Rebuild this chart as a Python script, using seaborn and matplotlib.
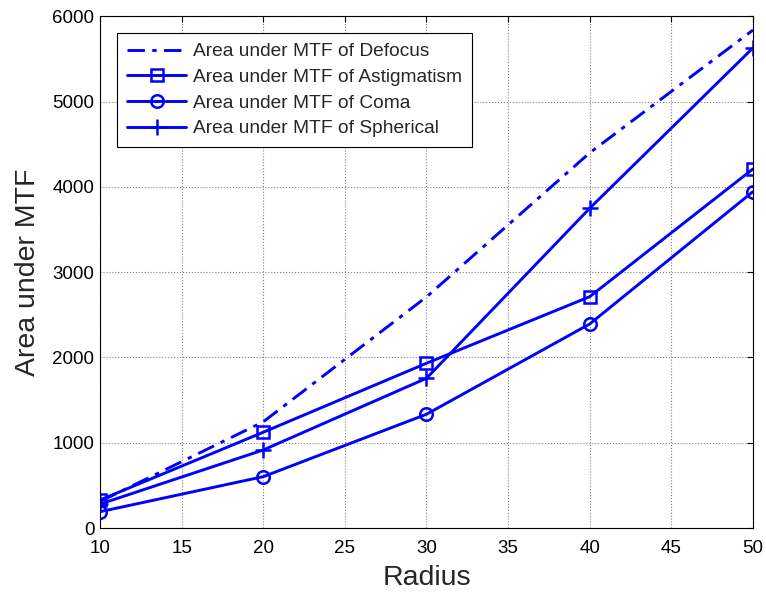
import matplotlib
matplotlib.use("Agg")
import matplotlib.pyplot as plt
import seaborn as sns
import pandas as pd

radius = [10, 20, 30, 40, 50]
defocus = [310, 1245, 2710, 4400, 5840]
astigmatism = [328, 1123, 1932, 2713, 4211]
coma = [191, 602, 1334, 2393, 3945]
spherical = [280, 915, 1756, 3750, 5630]
labels = ["Area under MTF of Defocus", "Area under MTF of Astigmatism",
          "Area under MTF of Coma", "Area under MTF of Spherical"]

sns.set_theme(style="white")
plt.rcParams['font.family'] = ['Liberation Sans', 'DejaVu Sans']

fig = plt.figure(figsize=(7.66, 5.92), dpi=100)
ax = fig.add_axes([0.1305, 0.1081, 0.8525, 0.8642])

blue = (0, 0, 1)
series = [defocus, astigmatism, coma, spherical]
styles = [dict(linestyle=(0, (6, 2.5, 1.5, 2.5)), marker=None),
          dict(linestyle='-', marker='s', markersize=9, markerfacecolor='none', markeredgewidth=1.8),
          dict(linestyle='-', marker='o', markersize=9, markerfacecolor='none', markeredgewidth=1.8),
          dict(linestyle='-', marker='+', markersize=11, markeredgewidth=1.8)]
for vals, lab, st in zip(series, labels, styles):
    df = pd.DataFrame({"Radius": radius, "Area": vals})
    sns.lineplot(data=df, x="Radius", y="Area", ax=ax, color=blue, linewidth=2.1,
                 label=lab, markeredgecolor=blue, **st)

ax.set_xlim(10, 50)
ax.set_ylim(0, 6000)
ax.set_xticks(range(10, 51, 5))
ax.set_yticks(range(0, 6001, 1000))
ax.grid(True, color='#808080', linestyle=':', linewidth=0.8)
ax.tick_params(direction='in', length=4, top=True, right=True, labelsize=13.5,
               colors='black', width=0.8)
ax.tick_params(axis='x', pad=8.5)
ax.tick_params(axis='y', pad=4)
for s in ax.spines.values():
    s.set_color('black')
    s.set_linewidth(0.8)
ax.set_xlabel("Radius", fontsize=20.5, labelpad=6)
ax.set_ylabel("Area under MTF", fontsize=20.5, labelpad=8)

leg = ax.legend(loc='upper left', bbox_to_anchor=(0.026, 0.9676), borderaxespad=0,
                fontsize=13.8, frameon=True, fancybox=False, edgecolor='black',
                framealpha=1, handlelength=3.1, borderpad=0.52, labelspacing=0.43,
                handletextpad=0.35)
leg.get_frame().set_linewidth(0.8)

fig.savefig("out.png", dpi=100)
